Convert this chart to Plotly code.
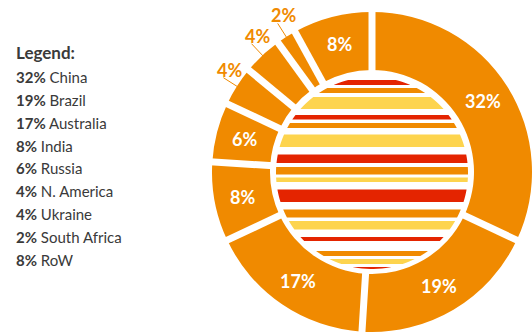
import math
import plotly.graph_objects as go

# ---- data ----
countries = ["China", "Brazil", "Australia", "India", "Russia",
             "N. America", "Ukraine", "South Africa", "RoW"]
shares = [32, 19, 17, 8, 6, 4, 4, 2, 8]
outside_labels = ["N. America", "Ukraine", "South Africa"]
legend_title = "Legend:"

# ---- styling / layout constants ----
W, H = 532, 333
CX, CY = 372, 172          # pie centre (px, from top-left)
R = 160                    # outer radius (px)
HOLE_R = 102               # inner radius of ring (px)
STRIPE_CX, STRIPE_CY, STRIPE_R = 372, 173, 96
ORANGE = "#F08A00"
RED = "#E42400"
YELLOW = "#FDD44E"
TEXT = "#3a3a3a"
FONT = "Lato"

# decorative stripe pattern of the centre disc (top px, bottom px, colour)
stripes = [(80, 85, RED), (88, 93, ORANGE), (97, 109, YELLOW),
           (115, 119.5, RED), (123, 128, ORANGE), (134.5, 147, YELLOW),
           (154.5, 163, RED), (167, 174.5, ORANGE), (177.5, 182, YELLOW),
           (189.5, 202, RED), (209.5, 217.5, ORANGE), (221, 229.5, YELLOW),
           (237, 241, RED), (251, 256, ORANGE), (259, 264, YELLOW),
           (267, 272, RED)]


def px(x, y):
    return x / W, 1 - y / H


fig = go.Figure()
fig.add_trace(go.Pie(
    labels=countries, values=shares, sort=False, direction="clockwise",
    rotation=0, hole=HOLE_R / R, textinfo="none", hoverinfo="label+percent",
    marker=dict(colors=[ORANGE] * len(shares), line=dict(width=0)),
    domain=dict(x=[(CX - R) / W, (CX + R) / W],
                y=[1 - (CY + R + 1) / H, 1 - (CY - R - 1) / H]),
    showlegend=False,
))

shapes = []
annotations = []

# centre stripes
for (y0, y1, col) in stripes:
    top = max(y0, STRIPE_CY - STRIPE_R + 0.01)
    bot = min(y1, STRIPE_CY + STRIPE_R - 0.01)
    if bot <= top:
        continue
    n = max(4, int((bot - top) * 2))
    ys = [top + (bot - top) * i / n for i in range(n + 1)]
    right = [(STRIPE_CX + math.sqrt(STRIPE_R ** 2 - (y - STRIPE_CY) ** 2), y) for y in ys]
    left = [(STRIPE_CX - math.sqrt(STRIPE_R ** 2 - (y - STRIPE_CY) ** 2), y) for y in reversed(ys)]
    pts = right + left
    path = "M " + " L ".join("%.5f,%.5f" % px(x, y) for x, y in pts) + " Z"
    shapes.append(dict(type="path", xref="paper", yref="paper", path=path,
                       fillcolor=col, line=dict(width=0), layer="above"))

# slice gaps and labels
total = sum(shares)
cum = 0
for name, v in zip(countries, shares):
    a0 = 2 * math.pi * cum / total
    # gap line at slice start
    sx, sy = math.sin(a0), -math.cos(a0)
    x0, y0 = px(CX + 99 * sx, CY + 99 * sy)
    x1, y1 = px(CX + 170 * sx, CY + 170 * sy)
    shapes.append(dict(type="line", xref="paper", yref="paper", x0=x0, y0=y0,
                       x1=x1, y1=y1, line=dict(color="white", width=7),
                       layer="above"))
    am = 2 * math.pi * (cum + v / 2) / total
    mx, my = math.sin(am), -math.cos(am)
    label = "%d%%" % v
    if name in outside_labels:
        lx0, ly0 = CX + 159 * mx, CY + 159 * my
        lx1, ly1 = CX + 176 * mx, CY + 176 * my
        a, b = px(lx0, ly0)
        c, d = px(lx1, ly1)
        shapes.append(dict(type="line", xref="paper", yref="paper", x0=a, y0=b,
                           x1=c, y1=d, line=dict(color=ORANGE, width=1),
                           layer="above"))
        tx, ty = px(lx1 + 6, ly1 - 8)
        annotations.append(dict(x=tx, y=ty, xref="paper", yref="paper",
                                text="<b>%s</b>" % label, showarrow=False,
                                xanchor="center", yanchor="middle",
                                font=dict(family=FONT, size=18, color=ORANGE)))
    else:
        tx, ty = px(CX + 132 * mx, CY + 132 * my)
        annotations.append(dict(x=tx, y=ty, xref="paper", yref="paper",
                                text="<b>%s</b>" % label, showarrow=False,
                                xanchor="center", yanchor="middle",
                                font=dict(family=FONT, size=18, color="white")))
    cum += v

# text legend on the left
annotations.append(dict(x=14 / W, y=1 - 52 / H, xref="paper", yref="paper",
                        text="<b>%s</b>" % legend_title, showarrow=False,
                        xanchor="left", yanchor="middle",
                        font=dict(family=FONT, size=17, color=TEXT)))
for i, (name, v) in enumerate(zip(countries, shares)):
    annotations.append(dict(x=14 / W, y=1 - (77 + 22.85 * i) / H,
                            xref="paper", yref="paper",
                            text="<b>%d%%</b> %s" % (v, name), showarrow=False,
                            xanchor="left", yanchor="middle",
                            font=dict(family=FONT, size=15, color=TEXT)))

fig.update_layout(width=W, height=H, margin=dict(l=0, r=0, t=0, b=0),
                  paper_bgcolor="white", plot_bgcolor="white",
                  shapes=shapes, annotations=annotations, showlegend=False)
fig.write_html("out.html")
